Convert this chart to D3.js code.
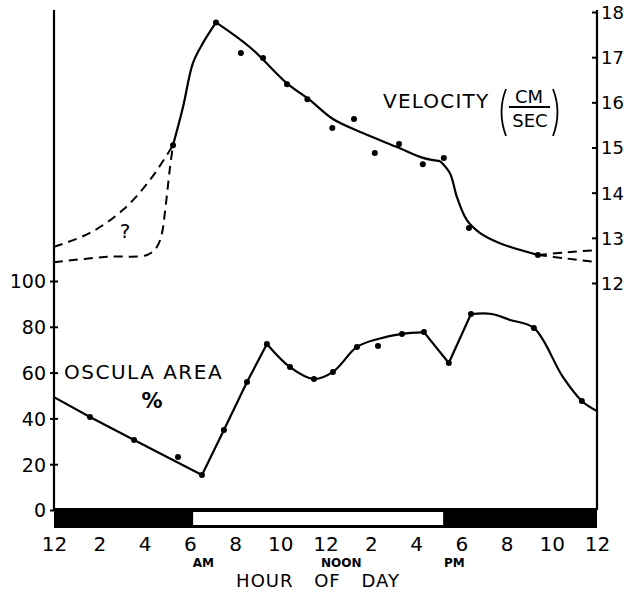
<!DOCTYPE html>
<html>
<head>
<meta charset="utf-8">
<script src="https://cdn.jsdelivr.net/npm/d3@7/dist/d3.min.js"></script>
<style>
  html, body { margin: 0; padding: 0; background: #fff; }
  svg { display: block; }
  text { font-family: "DejaVu Sans", sans-serif; fill: #000; }
</style>
</head>
<body>
<script>
// ---------- DATA ----------
// Velocity (cm/sec), solid curve
const velRiseHours  = [5.26, 5.70, 6.14, 6.58, 7.16];
const velRiseValues = [15.05, 15.89, 16.87, 17.31, 17.77];
const velFallHours  = [7.16, 8.66, 10.30, 11.31, 12.33, 13.65, 15.16, 16.31, 17.06];
const velFallValues = [17.77, 17.22, 16.42, 16.05, 15.63, 15.32, 15.01, 14.77, 14.70];
const velDropHours  = [17.06, 17.50, 17.81, 18.25, 18.82, 19.71, 21.39];
const velDropValues = [14.70, 14.43, 13.90, 13.39, 13.11, 12.88, 12.62];
// Velocity measured points
const velDotHours  = [5.26, 7.16, 8.26, 9.24, 10.30, 11.20, 12.30, 13.26, 14.18, 15.25, 16.30, 17.23, 18.34, 21.39];
const velDotValues = [15.05, 17.77, 17.09, 16.98, 16.40, 16.07, 15.43, 15.63, 14.88, 15.08, 14.63, 14.77, 13.22, 12.62];
// Velocity uncertain (dashed) night curves
const dashUpperHours  = [0, 1.59, 3.05, 4.24, 5.26];
const dashUpperValues = [12.80, 13.11, 13.62, 14.28, 15.05];
const dashLowerHours  = [0, 2.34, 4.11, 4.55, 4.77, 4.90, 5.13, 5.26];
const dashLowerValues = [12.46, 12.58, 12.62, 12.80, 13.10, 13.55, 14.57, 15.05];
const dashEndAHours  = [21.39, 22.7, 24];
const dashEndAValues = [12.62, 12.68, 12.73];
const dashEndBHours  = [21.39, 22.7, 24];
const dashEndBValues = [12.62, 12.54, 12.46];

// Oscula area (%), curve segments
const areaSegAHours  = [0, 1.59, 3.54, 6.54, 7.51, 8.53, 9.41];
const areaSegAValues = [49.3, 40.6, 30.6, 15.3, 34.9, 55.9, 72.5];
const areaSegBHours  = [9.41, 10.43, 11.49, 12.33, 13.39, 14.32, 15.38, 16.35];
const areaSegBValues = [72.5, 62.4, 57.2, 60.3, 71.2, 74.7, 76.9, 77.7];
const areaSegCHours  = [16.35, 17.45, 18.43];
const areaSegCValues = [77.7, 64.2, 85.6];
const areaSegDHours  = [18.43, 19.35, 20.15, 21.21, 22.49, 23.33, 24];
const areaSegDValues = [85.6, 85.6, 83.0, 79.5, 58.1, 47.6, 43.2];
// Oscula area measured points
const areaDotHours  = [1.59, 3.54, 5.48, 6.54, 7.51, 8.53, 9.41, 10.43, 11.49, 12.33, 13.39, 14.32, 15.38, 16.35, 17.45, 18.43, 21.21, 23.33];
const areaDotValues = [40.6, 30.6, 23.1, 15.3, 34.9, 55.9, 72.5, 62.4, 57.2, 60.3, 71.2, 71.6, 76.9, 77.7, 64.2, 85.6, 79.5, 47.6];

// Light period (hours)
const lightStart = 6.15;
const lightEnd = 17.2;

// Ticks
const hourTicks = [0, 2, 4, 6, 8, 10, 12, 14, 16, 18, 20, 22, 24];
const hourLabels = ["12", "2", "4", "6", "8", "10", "12", "2", "4", "6", "8", "10", "12"];
const areaTicks = [0, 20, 40, 60, 80, 100];
const velTicks = [12, 13, 14, 15, 16, 17, 18];
const periodLabels = [{h: 6.6, t: "AM"}, {h: 12.7, t: "NOON"}, {h: 17.7, t: "PM"}];

// ---------- CHART ----------
const W = 624, H = 593;
const svg = d3.select("body").append("svg").attr("width", W).attr("height", H);

const x = d3.scaleLinear().domain([0, 24]).range([54, 597]);
const yArea = d3.scaleLinear().domain([0, 100]).range([510, 281]);
const yVel = d3.scaleLinear().domain([12, 18]).range([283, 12]);

const zip = (hs, vs) => hs.map((h, i) => [h, vs[i]]);

// Axis lines
svg.append("line").attr("x1", x(0)).attr("x2", x(0)).attr("y1", 10).attr("y2", 510)
  .attr("stroke", "#000").attr("stroke-width", 2.2);
svg.append("line").attr("x1", x(24)).attr("x2", x(24)).attr("y1", 10).attr("y2", 510)
  .attr("stroke", "#000").attr("stroke-width", 2.2);

// Left axis (area)
const gL = svg.append("g").attr("transform", `translate(${x(0) + 4},0)`)
  .call(d3.axisLeft(yArea).tickValues(areaTicks).tickSize(8).tickPadding(4).tickFormat(d3.format("d")));
gL.select(".domain").remove();
gL.selectAll(".tick line").attr("stroke", "#000").attr("stroke-width", 2);
gL.selectAll(".tick text").style("font-size", "19px").attr("dy", "0.36em");

// Right axis (velocity)
const gR = svg.append("g").attr("transform", `translate(${x(24)},0)`)
  .call(d3.axisRight(yVel).tickValues(velTicks).tickSize(-5).tickPadding(4).tickFormat(d3.format("d")));
gR.select(".domain").remove();
gR.selectAll(".tick line").attr("stroke", "#000").attr("stroke-width", 2);
gR.selectAll(".tick text").style("font-size", "18px").attr("dy", "0.36em");

// Day/night bar
svg.append("rect").attr("x", x(0)).attr("y", 508).attr("width", x(24) - x(0)).attr("height", 20).attr("fill", "#000");
svg.append("rect").attr("x", x(lightStart)).attr("y", 512).attr("width", x(lightEnd) - x(lightStart)).attr("height", 13).attr("fill", "#fff");

// Bottom axis
const gB = svg.append("g").attr("transform", "translate(0,528)")
  .call(d3.axisBottom(x).tickValues(hourTicks).tickSize(0).tickPadding(9)
    .tickFormat((d, i) => hourLabels[i]));
gB.select(".domain").remove();
gB.selectAll(".tick text").style("font-size", "20px");

svg.selectAll(".period").data(periodLabels).enter().append("text")
  .attr("class", "period").attr("x", d => x(d.h)).attr("y", 567)
  .attr("text-anchor", "middle").style("font-size", "12px").style("font-weight", "bold")
  .text(d => d.t);

svg.append("text").attr("x", 318).attr("y", 587).attr("text-anchor", "middle")
  .style("font-size", "18px").style("word-spacing", "14px").style("letter-spacing", "1px").text("HOUR OF DAY");

// Line generators
const lineVel = curve => d3.line().x(d => x(d[0])).y(d => yVel(d[1])).curve(curve);
const lineArea = curve => d3.line().x(d => x(d[0])).y(d => yArea(d[1])).curve(curve);

// Velocity dashed
[[dashUpperHours, dashUpperValues], [dashLowerHours, dashLowerValues],
 [dashEndAHours, dashEndAValues], [dashEndBHours, dashEndBValues]].forEach(([hs, vs]) => {
  svg.append("path").datum(zip(hs, vs))
    .attr("d", lineVel(d3.curveCatmullRom.alpha(0.5)))
    .attr("fill", "none").attr("stroke", "#000").attr("stroke-width", 2)
    .attr("stroke-dasharray", "9,6");
});

// Velocity solid
[[velRiseHours, velRiseValues], [velFallHours, velFallValues], [velDropHours, velDropValues]].forEach(([hs, vs]) => {
  svg.append("path").datum(zip(hs, vs))
    .attr("d", lineVel(d3.curveCatmullRom.alpha(0.5)))
    .attr("fill", "none").attr("stroke", "#000").attr("stroke-width", 2.2);
});
svg.selectAll(".vdot").data(zip(velDotHours, velDotValues)).enter().append("circle")
  .attr("class", "vdot").attr("cx", d => x(d[0])).attr("cy", d => yVel(d[1])).attr("r", 3).attr("fill", "#000");

// Area curve
[[areaSegAHours, areaSegAValues, d3.curveLinear], [areaSegBHours, areaSegBValues, d3.curveCatmullRom.alpha(0.5)],
 [areaSegCHours, areaSegCValues, d3.curveLinear], [areaSegDHours, areaSegDValues, d3.curveCatmullRom.alpha(0.5)]]
 .forEach(([hs, vs, c]) => {
  svg.append("path").datum(zip(hs, vs))
    .attr("d", lineArea(c))
    .attr("fill", "none").attr("stroke", "#000").attr("stroke-width", 2.2).attr("stroke-linejoin", "round");
});
svg.selectAll(".adot").data(zip(areaDotHours, areaDotValues)).enter().append("circle")
  .attr("class", "adot").attr("cx", d => x(d[0])).attr("cy", d => yArea(d[1])).attr("r", 3).attr("fill", "#000");

// Labels
svg.append("text").attr("x", 383).attr("y", 108).style("font-size", "20px").style("letter-spacing", "1.2px").text("VELOCITY");
// parentheses drawn as thin curved strokes
svg.append("path").attr("d", "M506,89 Q497,112 506,136").attr("fill", "none").attr("stroke", "#000").attr("stroke-width", 1.8);
svg.append("path").attr("d", "M553,89 Q562,112 553,136").attr("fill", "none").attr("stroke", "#000").attr("stroke-width", 1.8);
svg.append("text").attr("x", 529).attr("y", 103).attr("text-anchor", "middle").style("font-size", "18px").text("CM");
svg.append("line").attr("x1", 509).attr("x2", 550).attr("y1", 107).attr("y2", 107).attr("stroke", "#000").attr("stroke-width", 2);
svg.append("text").attr("x", 530).attr("y", 127).attr("text-anchor", "middle").style("font-size", "18px").text("SEC");

svg.append("text").attr("x", 64).attr("y", 379).style("font-size", "20px").style("letter-spacing", "1.5px").text("OSCULA AREA");
svg.append("text").attr("x", 152).attr("y", 408).attr("text-anchor", "middle").style("font-size", "21px").style("font-weight", "bold").text("%");
svg.append("text").attr("x", 125).attr("y", 238).attr("text-anchor", "middle").style("font-size", "20px").text("?");
</script>
</body>
</html>
